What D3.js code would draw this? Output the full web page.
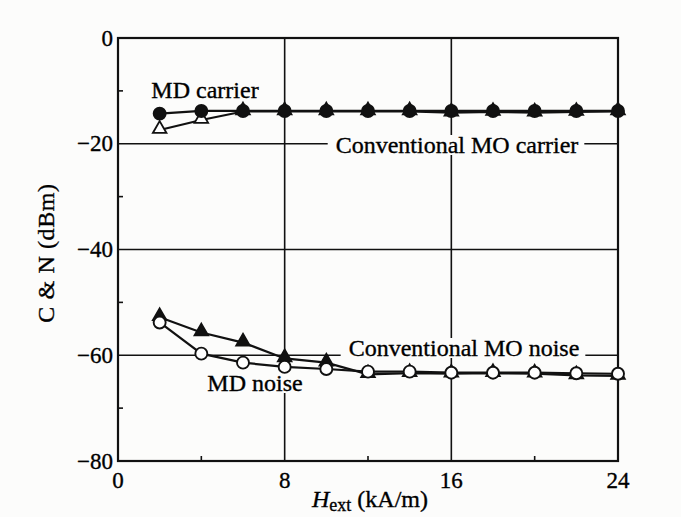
<!DOCTYPE html>
<html>
<head>
<meta charset="utf-8">
<script src="https://cdn.jsdelivr.net/npm/d3@7"></script>
<style>
  html, body { margin: 0; padding: 0; background: #fcfcfb; }
  svg { display: block; }
  text { font-family: "Liberation Serif", "Times New Roman", serif; fill: #000; stroke: #000; stroke-width: 0.35px; }
</style>
</head>
<body>
<svg id="chart" width="681" height="517"></svg>
<script>
// Field values (kA/m)
const hext = [2, 4, 6, 8, 10, 12, 14, 16, 18, 20, 22, 24];
// Carrier and noise levels (dBm)
const mdCarrier = [-14.3, -13.8, -13.8, -13.8, -13.8, -13.8, -13.8, -13.8, -13.8, -13.8, -13.8, -13.8];
const moCarrier = [-17.4, -15.5, -13.9, -13.9, -13.9, -13.9, -13.9, -14.1, -14.0, -14.1, -14.0, -13.9];
const mdNoise   = [-53.8, -59.7, -61.4, -62.2, -62.6, -63.1, -63.1, -63.3, -63.3, -63.3, -63.4, -63.5];
const moNoise   = [-52.8, -55.7, -57.6, -60.6, -61.4, -63.6, -63.4, -63.5, -63.4, -63.5, -63.8, -63.9];
const xTicks = [0, 8, 16, 24];
const yTicks = [0, -20, -40, -60, -80];
const xMinor = [4, 12, 20];
const yMinor = [-10, -30, -50, -70];

const svg = d3.select("#chart");
const L = 118, R = 618, T = 38, B = 461;
const x = d3.scaleLinear().domain([0, 24]).range([L, R]);
const y = d3.scaleLinear().domain([-80, 0]).range([B, T]);
const BG = "#fcfcfb";

svg.append("rect").attr("x", L).attr("y", T).attr("width", R - L).attr("height", B - T)
  .attr("fill", BG);

// Grid lines
const grid = svg.append("g").attr("stroke", "#111").attr("stroke-width", 1.6);
[8, 16].forEach(v => grid.append("line").attr("x1", x(v)).attr("x2", x(v)).attr("y1", T).attr("y2", B));
[-20, -40, -60].forEach(v => grid.append("line").attr("x1", L).attr("x2", R).attr("y1", y(v)).attr("y2", y(v)));

// Minor ticks (inside)
const mt = svg.append("g").attr("stroke", "#111").attr("stroke-width", 1.6);
yMinor.forEach(v => mt.append("line").attr("x1", L).attr("x2", L + 5).attr("y1", y(v)).attr("y2", y(v)));
xMinor.forEach(v => mt.append("line").attr("x1", x(v)).attr("x2", x(v)).attr("y1", B).attr("y2", B - 5));

// Curve labels; a background box interrupts the grid behind them
function label(txt, cx, cy, bg) {
  const t = svg.append("text").attr("x", cx).attr("y", cy).attr("font-size", 24)
    .attr("text-anchor", "middle").attr("dominant-baseline", "central").text(txt);
  if (bg) {
    const bb = t.node().getBBox();
    svg.insert("rect", "text").attr("x", bb.x - 8).attr("y", bb.y + 3)
      .attr("width", bb.width + 14).attr("height", bb.height - 6).attr("fill", BG);
  }
}
label("Conventional MO carrier", 457, 145, true);
label("Conventional MO noise", 464, 348, true);
label("MD noise", 255, 383, true);
label("MD carrier", 205, 90, false);

// Frame
svg.append("rect").attr("x", L).attr("y", T).attr("width", R - L).attr("height", B - T)
  .attr("fill", "none").attr("stroke", "#111").attr("stroke-width", 2.2);

// Axis tick labels
svg.append("g").selectAll("text").data(yTicks).join("text")
  .attr("x", L - 5).attr("y", d => y(d)).attr("text-anchor", "end")
  .attr("dominant-baseline", "central").attr("font-size", 23)
  .text(d => d === 0 ? "0" : "\u2212" + Math.abs(d));
svg.append("g").selectAll("text").data(xTicks).join("text")
  .attr("x", d => x(d)).attr("y", B + 19).attr("text-anchor", "middle")
  .attr("dominant-baseline", "central").attr("font-size", 23).text(d => d);

// Axis titles
const xt = svg.append("text").attr("x", 370).attr("y", 507).attr("text-anchor", "middle").attr("font-size", 24);
xt.append("tspan").attr("font-style", "italic").text("H");
xt.append("tspan").attr("font-size", 18).attr("dy", 4).text("ext");
xt.append("tspan").attr("dy", -4).text(" (kA/m)");
svg.append("text").attr("transform", "translate(46,253) rotate(-90)")
  .attr("text-anchor", "middle").attr("dominant-baseline", "central").attr("font-size", 24)
  .attr("letter-spacing", 0.6).text("C & N (dBm)");

// Series
const line = vals => d3.line().x((d, i) => x(hext[i])).y(d => y(d))(vals);
function drawLine(vals) {
  svg.append("path").attr("d", line(vals)).attr("fill", "none")
    .attr("stroke", "#111").attr("stroke-width", 2.2);
}
const tri = d3.symbol().type(d3.symbolTriangle).size(80);
function triangles(vals, filled) {
  svg.append("g").selectAll("path").data(vals).join("path")
    .attr("d", tri).attr("transform", (d, i) => `translate(${x(hext[i])},${y(d) - 1})`)
    .attr("fill", filled ? "#111" : "#fff").attr("stroke", "#111").attr("stroke-width", 1.8);
}
function circles(vals, filled) {
  svg.append("g").selectAll("circle").data(vals).join("circle")
    .attr("cx", (d, i) => x(hext[i])).attr("cy", d => y(d)).attr("r", 6)
    .attr("fill", filled ? "#111" : "#fff").attr("stroke", "#111").attr("stroke-width", 1.9);
}

drawLine(moCarrier);
drawLine(mdCarrier);
triangles(moCarrier, false);
circles(mdCarrier, true);

drawLine(moNoise);
drawLine(mdNoise);
triangles(moNoise, true);
circles(mdNoise, false);
</script>
</body>
</html>
